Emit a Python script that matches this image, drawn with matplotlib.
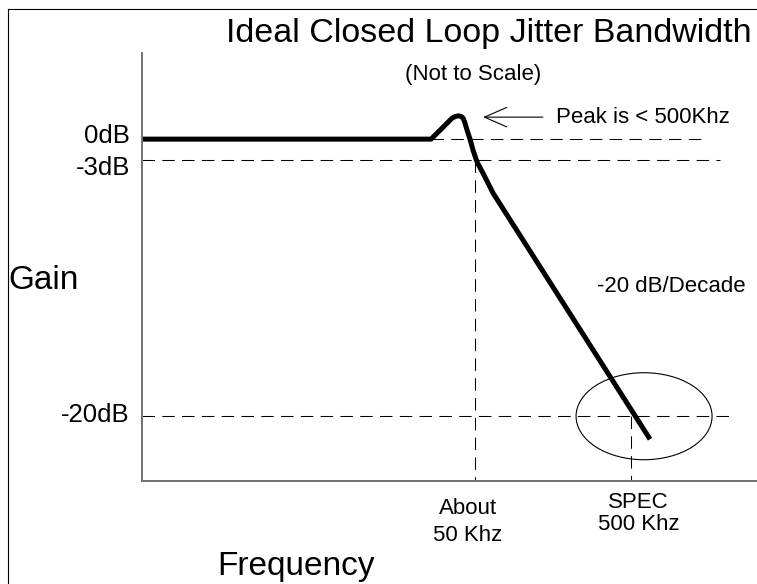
import numpy as np
import matplotlib
matplotlib.use('Agg')
import matplotlib.pyplot as plt
import matplotlib.transforms as mtransforms
from matplotlib.patches import Ellipse
from matplotlib.lines import Line2D

plt.rcParams['font.family'] = ['Liberation Sans', 'DejaVu Sans']

# closed loop response, frequency in kHz, gain in dB (drawing is "not to scale")
freq_khz = [0.366, 26.1, 30.3, 32.6, 35.6, 37.2, 38.9, 40.7, 41.9, 43.1, 44.4,
            46.4, 48.5, 51.5, 57.1, 65.2, 662.0]
gain_db = [0.0, 0.0, 1.43, 2.14, 3.0, 3.21, 3.33, 3.24, 3.0, 2.29, 1.29,
           0.0, -1.57, -3.13, -4.0, -5.19, -21.53]

gain_ticks = [0, -3, -20]
gain_labels = ['0dB', '-3dB', '-20dB']
f_corner = 50.0      # kHz, about
f_spec = 500.0       # kHz
f_lo, f_hi = 0.366, 3210.0
g_lo, g_hi = -24.3, 12.3


# non-linear gain axis: top part stretched less than the lower part
def fwd(v):
    v = np.asarray(v, dtype=float)
    return np.where(v >= -3, 7.0 * v, -21.0 + (v + 3) * (256 / 17))


def inv(p):
    p = np.asarray(p, dtype=float)
    return np.where(p >= -21, p / 7.0, -3 + (p + 21) / (256 / 17))


W, H = 757, 584
fig = plt.figure(figsize=(W / 100, H / 100), dpi=100)
ax = fig.add_axes([142 / W, 1 - 481 / H, 1 - 142 / W, (481 - 53) / H])
ax.set_xscale('log')
ax.set_yscale('function', functions=(fwd, inv))
ax.set_xlim(f_lo, f_hi)
ax.set_ylim(g_lo, g_hi)
for s in ['top', 'right']:
    ax.spines[s].set_visible(False)
for s in ['left', 'bottom']:
    ax.spines[s].set_color('#707070')
    ax.spines[s].set_linewidth(1.4)
ax.set_xticks([])
ax.set_yticks([])
ax.minorticks_off()
ax.xaxis.set_minor_locator(matplotlib.ticker.NullLocator())
ax.yaxis.set_minor_locator(matplotlib.ticker.NullLocator())

dash = dict(color='black', lw=0.75, ls=(0, (12, 7)))
ax.plot([26.1, 1490], [0, 0], **dash)
ax.plot([f_lo, 1860], [-3, -3], **dash)
ax.plot([f_lo, 2254], [-20, -20], **dash)
ax.plot([f_corner, f_corner], [-3, g_lo], **dash)
ax.plot([f_spec, f_spec], [-20, g_lo], **dash)

ax.plot(freq_khz, gain_db, color='black', lw=3.6, solid_capstyle='butt', clip_on=False)

# ellipse around the spec point, sized in pixels
cx, cy = ax.transData.transform((606.0, -20))
ell = Ellipse((cx, cy), 136, 87, transform=mtransforms.IdentityTransform(),
              fill=False, edgecolor='black', lw=0.8)
fig.add_artist(ell)

for g, lab, dy in zip(gain_ticks, gain_labels, [4, 15, 6]):
    tr = mtransforms.offset_copy(ax.get_yaxis_transform(), fig=fig, x=-12, y=-dy, units='dots')
    ax.text(0, g, lab, transform=tr, ha='right', va='baseline', fontsize=18.5)

ax.annotate('', xy=(56.3, 3.14), xytext=(136, 3.14),
            arrowprops=dict(arrowstyle='->,head_length=1.6,head_width=0.7',
                            mutation_scale=10, lw=0.8, color='black',
                            shrinkA=0, shrinkB=0))


def ftext(x, y, s, **kw):
    fig.text(x / W, 1 - y / H, s, va='baseline', **kw)


ftext(752, 42, 'Ideal Closed Loop Jitter Bandwidth', ha='right', fontsize=24.5)
ftext(405, 80, '(Not to Scale)', ha='left', fontsize=16)
ftext(556, 123, 'Peak is < 500Khz', ha='left', fontsize=16)
ftext(597, 292, '-20 dB/Decade', ha='left', fontsize=16)
ftext(8, 289, 'Gain', ha='left', fontsize=24)
ftext(217, 575, 'Frequency', ha='left', fontsize=24)
ftext(468, 514, 'About', ha='center', fontsize=16)
ftext(468, 541, '50 Khz', ha='center', fontsize=16)
ftext(638, 508, 'SPEC', ha='center', fontsize=16)
ftext(639, 530, '500 Khz', ha='center', fontsize=16)

# frame (left and top edges only visible)
fig.add_artist(Line2D([7.5 / W, 7.5 / W], [0, 1 - 9 / H], transform=fig.transFigure,
                      color='black', lw=0.8))
fig.add_artist(Line2D([7.5 / W, 1], [1 - 9 / H, 1 - 9 / H], transform=fig.transFigure,
                      color='black', lw=0.8))

fig.savefig('out.png', dpi=100)
